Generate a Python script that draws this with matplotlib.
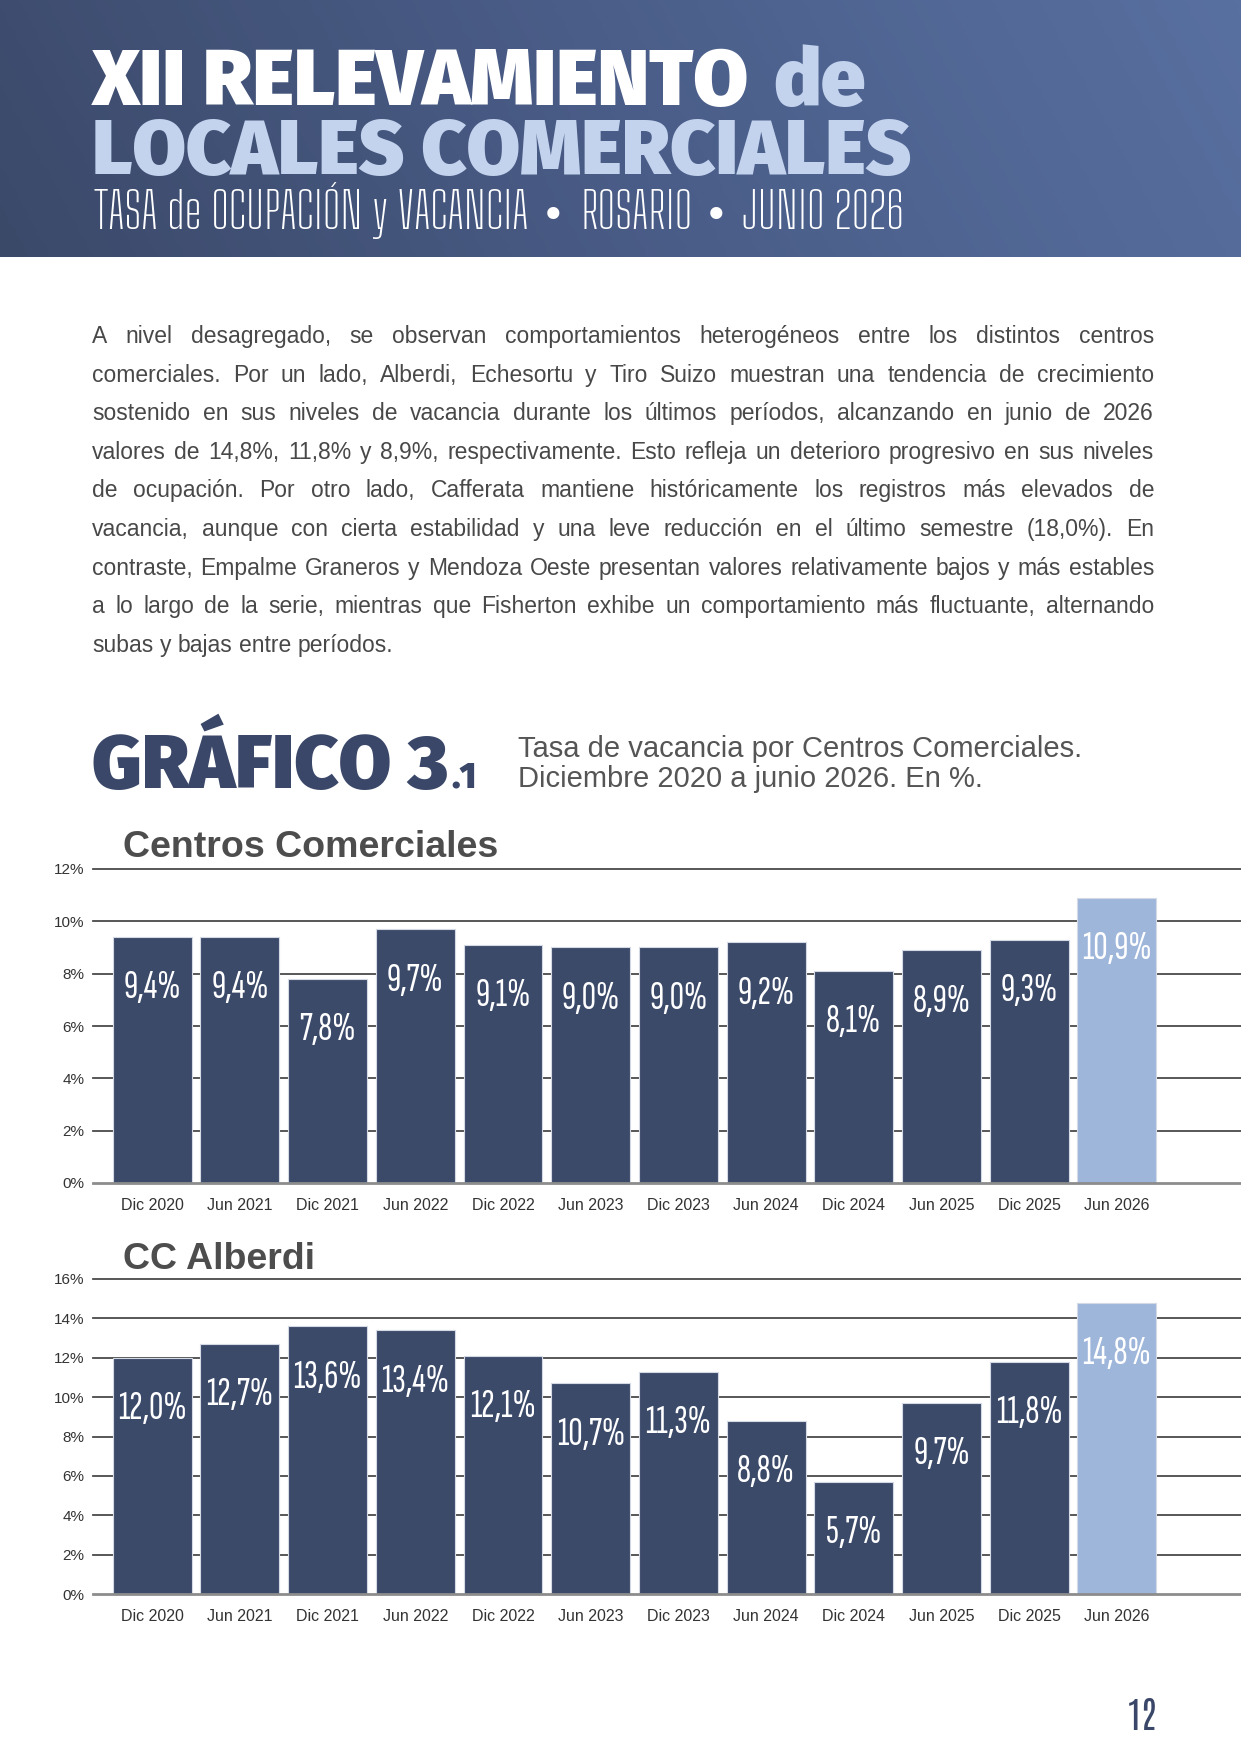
import numpy as np
import matplotlib
matplotlib.use("Agg")
import matplotlib.pyplot as plt
from matplotlib.colors import LinearSegmentedColormap
from matplotlib.textpath import TextPath
from matplotlib.font_manager import FontProperties

# ---------------- data ----------------
periods = ["Dic 2020", "Jun 2021", "Dic 2021", "Jun 2022", "Dic 2022", "Jun 2023",
           "Dic 2023", "Jun 2024", "Dic 2024", "Jun 2025", "Dic 2025", "Jun 2026"]
cc_values = [9.4, 9.4, 7.8, 9.7, 9.1, 9.0, 9.0, 9.2, 8.1, 8.9, 9.3, 10.9]
alberdi_values = [12.0, 12.7, 13.6, 13.4, 12.1, 10.7, 11.3, 8.8, 5.7, 9.7, 11.8, 14.8]
cc_yticks = [0, 2, 4, 6, 8, 10, 12]
alberdi_yticks = [0, 2, 4, 6, 8, 10, 12, 14, 16]

paragraph_lines = [
    "A nivel desagregado, se observan comportamientos heterogéneos entre los distintos centros",
    "comerciales. Por un lado, Alberdi, Echesortu y Tiro Suizo muestran una tendencia de crecimiento",
    "sostenido en sus niveles de vacancia durante los últimos períodos, alcanzando en junio de 2026",
    "valores de 14,8%, 11,8% y 8,9%, respectivamente. Esto refleja un deterioro progresivo en sus niveles",
    "de ocupación. Por otro lado, Cafferata mantiene históricamente los registros más elevados de",
    "vacancia, aunque con cierta estabilidad y una leve reducción en el último semestre (18,0%). En",
    "contraste, Empalme Graneros y Mendoza Oeste presentan valores relativamente bajos y más estables",
    "a lo largo de la serie, mientras que Fisherton exhibe un comportamiento más fluctuante, alternando",
    "subas y bajas entre períodos.",
]
subtitle_parts = ["TASA de OCUPACIÓN y VACANCIA", "ROSARIO", "JUNIO 2026"]

# ---------------- style ----------------
NAVY = "#3c4a6a"
LIGHT = "#9fb6db"
TITLE_LIGHT = "#c3d3ee"
GRID = "#4a4a4a"
BASE = "#8c8c8c"
TXT = "#333333"
HEAD_FONT = "Fira Sans"
THIN_FONT = "Big Shoulders Text"
LABEL_FONT = "Sofia Sans Extra Condensed"
NUM_FONT = "Antonio"
BODY_FONT = "Liberation Sans"

W, H = 1241, 1754
fig = plt.figure(figsize=(W / 100, H / 100), dpi=100)
fig.patch.set_facecolor("white")
renderer = fig.canvas.get_renderer()


def fx(px):
    return px / W


def fy(py):
    return 1 - py / H


def put(x, y, s, **kw):
    kw.setdefault("va", "baseline")
    kw.setdefault("ha", "left")
    return fig.text(fx(x), fy(y), s, **kw)


def width(t):
    return t.get_window_extent(renderer).width


def fit(x, y, s, target_w, size0=40, **kw):
    t = put(x, y, s, fontsize=size0, **kw)
    t.set_fontsize(size0 * target_w / width(t))
    return t


def size_for_cap(family, cap_px, weight="normal"):
    tp = TextPath((0, 0), "0", size=100, prop=FontProperties(family=family, weight=weight))
    ratio = tp.get_extents().height / 100.0
    return cap_px / ratio * 72.0 / 100.0


# ---------------- header band ----------------
band_h = 257
axb = fig.add_axes([0, fy(band_h), 1, band_h / H])
gx = np.linspace(0, 1, 400)[None, :]
gy = np.linspace(0, 1, 60)[:, None]
grad = np.clip(0.9 * gx + 0.1 * (1 - gy), 0, 1)
cmap = LinearSegmentedColormap.from_list("band", ["#3b4969", "#4a5d88", "#5870a0"])
axb.imshow(grad, aspect="auto", cmap=cmap, extent=[0, 1, 0, 1])
axb.set_axis_off()

t1 = fit(92, 105, "XII RELEVAMIENTO", 658, color="white", family=HEAD_FONT, fontweight=900)
put(92 + width(t1) + 24, 105, "de", fontsize=t1.get_fontsize(), color=TITLE_LIGHT,
    family=HEAD_FONT, fontweight=900)
fit(92, 174, "LOCALES COMERCIALES", 820, color=TITLE_LIGHT, family=HEAD_FONT, fontweight=900)

st = fit(94, 229, subtitle_parts[0], 434, color="white", family=THIN_FONT, fontweight=300)
put(580, 229, subtitle_parts[1], fontsize=st.get_fontsize(), color="white", family=THIN_FONT, fontweight=300)
put(742, 229, subtitle_parts[2], fontsize=st.get_fontsize(), color="white", family=THIN_FONT, fontweight=300)
for bx in (553, 716):
    put(bx, 229, "•", ha="center", fontsize=30, color="white", family=["DejaVu Sans"])

# ---------------- justified paragraph ----------------
left, right = 92, 1154
base0, step = 343, 38.6
size = 14.0
probe = put(0, 0, paragraph_lines[-1], fontsize=size, family=BODY_FONT)
size = size * 303 / width(probe)
probe.remove()
for i, line in enumerate(paragraph_lines):
    words = line.split(" ")
    y = base0 + i * step
    texts = [put(0, y, w, fontsize=size, family=BODY_FONT, color="#484848") for w in words]
    widths = [width(t) for t in texts]
    if i < len(paragraph_lines) - 1 and len(words) > 1:
        gap = (right - left - sum(widths)) / (len(words) - 1)
    else:
        sp = put(0, 0, "a a", fontsize=size, family=BODY_FONT)
        sa = put(0, 0, "aa", fontsize=size, family=BODY_FONT)
        gap = width(sp) - width(sa)
        sp.remove()
        sa.remove()
    x = left
    for t, w in zip(texts, widths):
        t.set_x(fx(x))
        x += w + gap

# ---------------- chart heading ----------------
g = fit(92, 788, "GRÁFICO 3", 357, color="#3a4769", family=HEAD_FONT, fontweight=900)
put(92 + width(g) + 3, 788, ".1", fontsize=g.get_fontsize() * 0.46, color="#3a4769",
    family=HEAD_FONT, fontweight=900)
s1 = fit(518, 757, "Tasa de vacancia por Centros Comerciales.", 564, color="#555555", family=BODY_FONT)
put(518, 787, "Diciembre 2020 a junio 2026. En %.", fontsize=s1.get_fontsize(), color="#555555", family=BODY_FONT)

ct = fit(123, 857, "Centros Comerciales", 374, color="#4d4d4d", family=BODY_FONT, fontweight="bold")
put(123, 1269, "CC Alberdi", fontsize=ct.get_fontsize(), color="#4d4d4d", family=BODY_FONT, fontweight="bold")

label_size = size_for_cap(LABEL_FONT, 26.5)


# ---------------- bar charts ----------------
def bar_chart(top_px, bottom_px, values, yticks):
    ax = fig.add_axes([fx(92.8), fy(bottom_px), (W - 92.8) / W, (bottom_px - top_px) / H])
    x = np.arange(len(periods))
    colors = [NAVY] * (len(values) - 1) + [LIGHT]
    ax.bar(x, values, width=0.9, color=colors, edgecolor="#d3dae6", linewidth=0.8, zorder=2)
    for v in yticks[1:]:
        ax.axhline(v, color=GRID, linewidth=1.3, zorder=1, clip_on=False)
    ax.axhline(0, color=BASE, linewidth=2.0, zorder=3, clip_on=False)
    for xi, v in zip(x, values):
        ax.annotate(f"{v:.1f}".replace(".", ",") + "%", (xi, v), xytext=(0, -37),
                    textcoords="offset points", ha="center", va="center",
                    color="white", fontsize=label_size, family=LABEL_FONT, fontweight=300, zorder=4)
    ax.set_xlim(-0.678, 12.416)
    ax.set_ylim(0, yticks[-1])
    ax.set_yticks(yticks, labels=[f"{t}%" for t in yticks])
    ax.set_xticks(x, labels=periods)
    ax.tick_params(axis="y", length=0, pad=6, labelsize=11, labelcolor=TXT)
    ax.tick_params(axis="x", length=0, pad=10.5, labelsize=11.5, labelcolor=TXT)
    for lab in ax.get_xticklabels() + ax.get_yticklabels():
        lab.set_family(BODY_FONT)
    for sp in ax.spines.values():
        sp.set_visible(False)
    ax.patch.set_alpha(0)
    return ax


bar_chart(869, 1183, cc_values, cc_yticks)
bar_chart(1279, 1594, alberdi_values, alberdi_yticks)

# page number
fit(1127, 1730, "12", 30, color="#3a4769", family=NUM_FONT, fontweight=700)

fig.savefig("out.png", dpi=100)
